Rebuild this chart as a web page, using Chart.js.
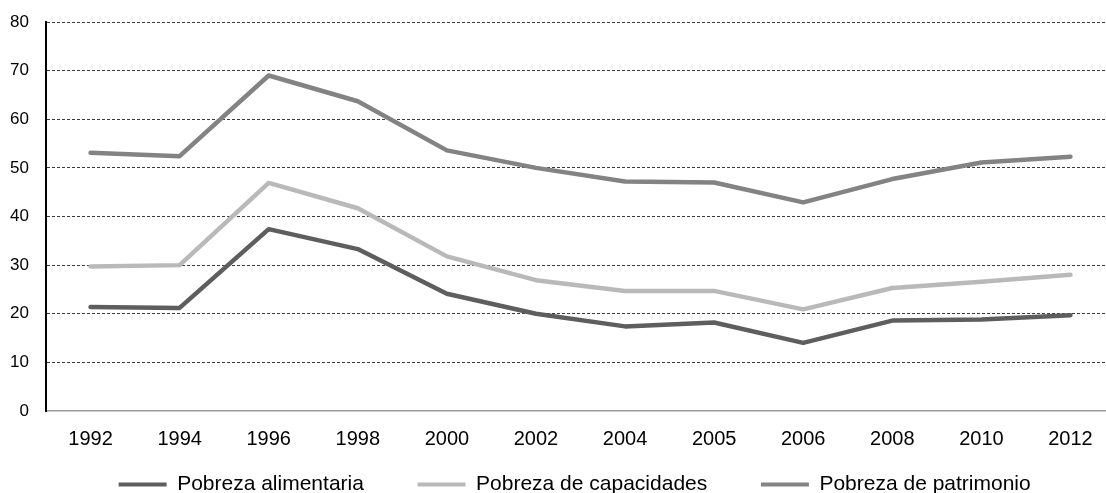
<!DOCTYPE html>
<html>
<head>
<meta charset="utf-8">
<script src="https://cdn.jsdelivr.net/npm/chart.js@4/dist/chart.umd.min.js"></script>
<style>
  html, body { margin: 0; padding: 0; background: #fff; overflow: hidden; }
  #wrap { width: 1148px; height: 505px; }
</style>
</head>
<body>
<div id="wrap"><canvas id="c" width="1148" height="505"></canvas></div>
<script>
// Años de la serie
const years = ['1992', '1994', '1996', '1998', '2000', '2002', '2004', '2005', '2006', '2008', '2010', '2012'];

// Porcentaje de personas en cada tipo de pobreza
const alimentaria = [21.4, 21.2, 37.4, 33.3, 24.1, 20.0, 17.4, 18.2, 14.0, 18.6, 18.8, 19.7];
const capacidades = [29.7, 30.0, 46.9, 41.7, 31.8, 26.9, 24.7, 24.7, 20.9, 25.3, 26.6, 28.0];
const patrimonio  = [53.1, 52.4, 69.0, 63.7, 53.6, 50.0, 47.2, 47.0, 42.9, 47.7, 51.1, 52.3];

const seriesNames = ['Pobreza alimentaria', 'Pobreza de capacidades', 'Pobreza de patrimonio'];
const seriesColors = ['#5e5e5e', '#b9b9b9', '#838383'];

const yMin = 0, yMax = 80, yStep = 10;

const FONT = '"Liberation Sans", Arial, sans-serif';

function lineSet(label, data, color) {
  return {
    label, data,
    borderColor: color,
    backgroundColor: color,
    borderWidth: 4.5,
    pointRadius: 0,
    pointHoverRadius: 0,
    tension: 0,
    fill: false,
    borderCapStyle: 'round',
    borderJoinStyle: 'round'
  };
}

// Separación extra tras el texto de cada entrada de la leyenda
const legendGap = '        ';
const legendTail = '  ';

new Chart(document.getElementById('c'), {
  type: 'line',
  data: {
    labels: years,
    datasets: [
      lineSet(seriesNames[0], alimentaria, seriesColors[0]),
      lineSet(seriesNames[1], capacidades, seriesColors[1]),
      lineSet(seriesNames[2], patrimonio, seriesColors[2])
    ]
  },
  options: {
    responsive: false,
    animation: false,
    devicePixelRatio: 1,
    layout: { padding: { left: 10, right: 33, top: 22, bottom: 0 } },
    plugins: {
      tooltip: { enabled: false },
      legend: {
        position: 'bottom',
        fullSize: false,
        labels: {
          color: '#000',
          font: { family: FONT, size: 21 },
          boxWidth: 48,
          boxHeight: 4,
          padding: 7,
          generateLabels: (chart) => {
            const items = Chart.defaults.plugins.legend.labels.generateLabels(chart);
            items.forEach((it, i) => {
              it.lineWidth = 0;
              it.text = it.text + (i < items.length - 1 ? legendGap : legendTail);
            });
            return items;
          }
        }
      }
    },
    scales: {
      x: {
        offset: true,
        grid: { display: false, drawTicks: false },
        border: { display: true, color: '#9a9a9a', width: 1.5 },
        ticks: { color: '#000', font: { family: FONT, size: 20 }, padding: 16, maxRotation: 0 }
      },
      y: {
        min: yMin, max: yMax,
        afterFit: (scale) => {
          scale.width = 36;
          scale.paddingTop = 0;
          scale.paddingBottom = 0;
        },
        grid: {
          drawTicks: false,
          lineWidth: 1,
          color: (ctx) => (ctx.tick && ctx.tick.value === 0) ? 'rgba(0,0,0,0)' : '#3a3a3a'
        },
        border: { display: true, color: '#000', width: 2, dash: [3, 2] },
        ticks: { stepSize: yStep, color: '#000', font: { family: FONT, size: 17 }, padding: 17 }
      }
    }
  }
});
</script>
</body>
</html>
